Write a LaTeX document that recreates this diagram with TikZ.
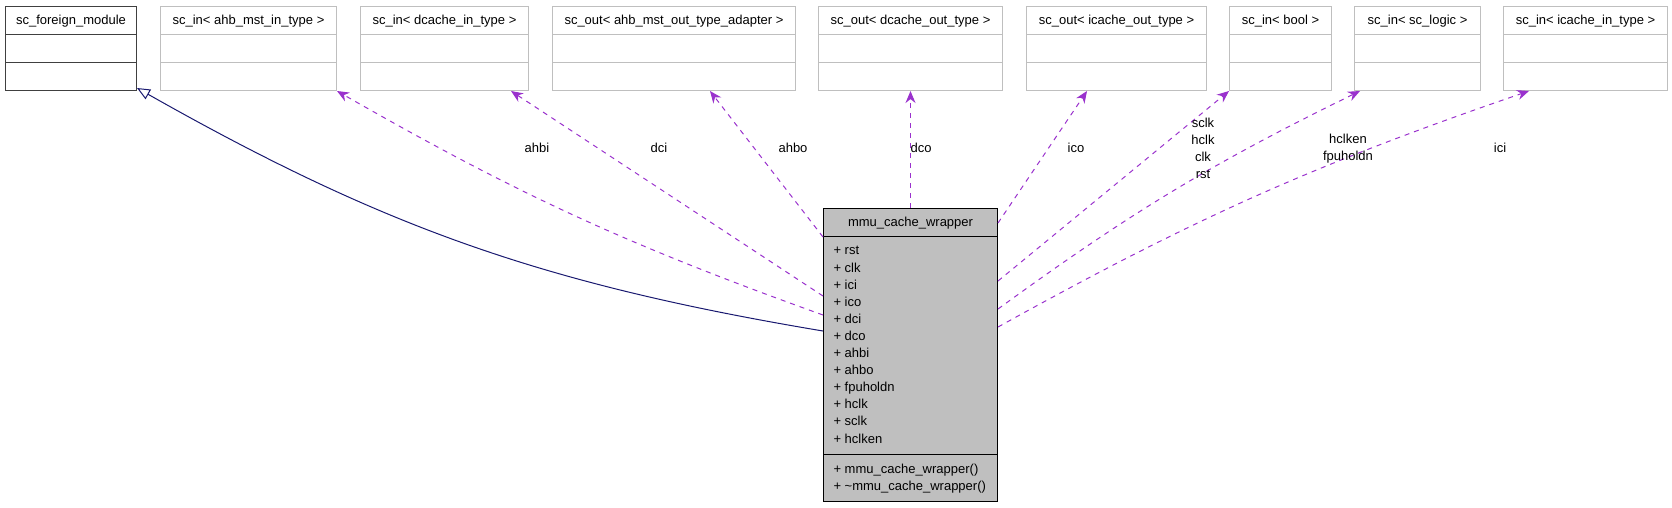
\documentclass[tikz,border=0pt]{standalone}
\usepackage{fontspec}
\setmainfont{Liberation Sans}
\usetikzlibrary{shapes.multipart,arrows.meta}
\definecolor{orchid}{HTML}{9A32CD}
\definecolor{midnight}{HTML}{191970}
\definecolor{grey75}{HTML}{BFBFBF}
\definecolor{grey40}{HTML}{404040}
\newcommand{\boxrow}{\rule[-3.5pt]{0pt}{15pt}}
\begin{document}
\begin{tikzpicture}[x=1pt, y=-1pt, line width=1pt, font=\fontsize{13}{17}\selectfont,
  portbox/.style={draw=grey75, rectangle split, rectangle split parts=3, inner ysep=6pt, anchor=north west},
  collab/.style={draw=orchid, dash pattern=on 5pt off 5pt, -{Stealth[length=12pt,width=10pt]}},
  inherit/.style={draw=midnight, -{Triangle[open,length=13pt,width=11pt]}}]
\useasboundingbox (0,0) rectangle (1672,507);
\node[portbox, draw=grey40, minimum width=131pt] (FM) at (5,6) {\boxrow sc\_foreign\_module\nodepart{two}\boxrow\nodepart{three}\boxrow};
\node[portbox, minimum width=176pt] (AI) at (160,6) {\boxrow sc\_in< ahb\_mst\_in\_type >\nodepart{two}\boxrow\nodepart{three}\boxrow};
\node[portbox, minimum width=168pt] (DI) at (360,6) {\boxrow sc\_in< dcache\_in\_type >\nodepart{two}\boxrow\nodepart{three}\boxrow};
\node[portbox, minimum width=243pt] (AO) at (552,6) {\boxrow sc\_out< ahb\_mst\_out\_type\_adapter >\nodepart{two}\boxrow\nodepart{three}\boxrow};
\node[portbox, minimum width=184pt] (DO) at (818,6) {\boxrow sc\_out< dcache\_out\_type >\nodepart{two}\boxrow\nodepart{three}\boxrow};
\node[portbox, minimum width=180pt] (IO) at (1026,6) {\boxrow sc\_out< icache\_out\_type >\nodepart{two}\boxrow\nodepart{three}\boxrow};
\node[portbox, minimum width=102pt] (BO) at (1229,6) {\boxrow sc\_in< bool >\nodepart{two}\boxrow\nodepart{three}\boxrow};
\node[portbox, minimum width=126pt] (LO) at (1354,6) {\boxrow sc\_in< sc\_logic >\nodepart{two}\boxrow\nodepart{three}\boxrow};
\node[portbox, minimum width=164pt] (II) at (1503,6) {\boxrow sc\_in< icache\_in\_type >\nodepart{two}\boxrow\nodepart{three}\boxrow};
\node[portbox, draw=black, fill=grey75, minimum width=174pt, inner xsep=10pt, rectangle split part align={center,left,left}, font=\fontsize{13}{17.1}\selectfont] (M) at (823,208) {\boxrow mmu\_cache\_wrapper\nodepart{two}\begin{tabular}{@{}l@{}}+ rst\\+ clk\\+ ici\\+ ico\\+ dci\\+ dco\\+ ahbi\\+ ahbo\\+ fpuholdn\\+ hclk\\+ sclk\\+ hclken\end{tabular}\nodepart{three}\begin{tabular}{@{}l@{}}+ mmu\_cache\_wrapper()\\+ \textasciitilde mmu\_cache\_wrapper()\end{tabular}};
\draw[inherit] ([yshift=-123pt]M.north west) to[bend left=10] ([yshift=3pt]FM.south east);
\draw[collab] ([yshift=-107pt]M.north west) to[bend left=5] (AI.south east);
\draw[collab] ([yshift=-88pt]M.north west) -- ([xshift=-18pt]DI.south east);
\draw[collab] ([yshift=-29pt]M.north west) -- ([xshift=-86pt]AO.south east);
\draw[collab] (M.north) -- (DO.south);
\draw[collab] ([yshift=-15pt]M.north east) -- ([xshift=61pt]IO.south west);
\draw[collab] ([yshift=-73pt]M.north east) -- (BO.south west);
\draw[collab] ([yshift=-101pt]M.north east) to[bend left=5] ([xshift=6pt]LO.south west);
\draw[collab] ([yshift=-119pt]M.north east) to[bend left=5] ([xshift=26pt]II.south west);
\node (L1) at (537,148) {ahbi};
\node (L2) at (659,148) {dci};
\node (L3) at (793,148) {ahbo};
\node (L4) at (921,148) {dco};
\node (L5) at (1076,148) {ico};
\node[align=center] (L6) at (1203,148.5) {sclk\\hclk\\clk\\rst};
\node[align=center] (L7) at (1348,148.5) {hclken\\fpuholdn};
\node (L8) at (1500,148) {ici};
\end{tikzpicture}
\end{document}
